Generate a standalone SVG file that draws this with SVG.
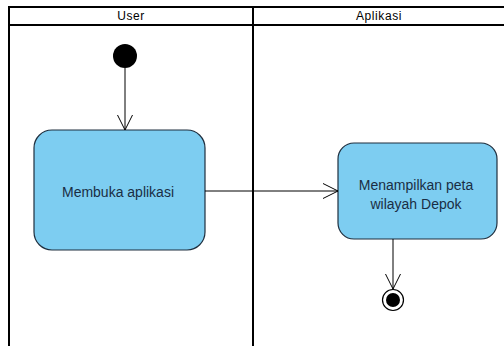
<svg xmlns="http://www.w3.org/2000/svg" width="504" height="346" viewBox="0 0 504 346">
<style>
.lane{fill:none;stroke:#000;stroke-width:2}
.hdr{font-family:"Liberation Sans",Arial,sans-serif;font-size:12px;letter-spacing:0.6px;fill:#000;text-anchor:middle}
.act{fill:#7dcdf1;stroke:#1f2f3f;stroke-width:1.2}
.lbl{font-family:"Liberation Sans",Arial,sans-serif;font-size:14px;fill:#1a2d44;text-anchor:middle}
.edge{fill:none;stroke:#000;stroke-width:1}
</style>
<defs>
<marker id="open" markerWidth="18" markerHeight="18" refX="16" refY="9" orient="auto" markerUnits="userSpaceOnUse">
<path d="M1,1.5 L16,9 L1,16.5" fill="none" stroke="#000" stroke-width="1"/>
</marker>
</defs>
<rect width="504" height="346" fill="#fff"/>
<g id="lanes">
<path class="lane" d="M9,347 V7 H505 M9,25 H505 M253,7 V347"/>
<text class="hdr" x="131" y="20">User</text>
<text class="hdr" x="379" y="20">Aplikasi</text>
</g>
<g id="start">
<circle cx="125" cy="56" r="12" fill="#000"/>
</g>
<g id="act1">
<rect class="act" x="34" y="130" width="171" height="120" rx="18" ry="18"/>
<text class="lbl" x="118" y="197">Membuka aplikasi</text>
</g>
<g id="act2">
<rect class="act" x="338" y="143" width="159" height="96" rx="16" ry="16"/>
<text class="lbl" x="416" y="189.5">Menampilkan peta</text>
<text class="lbl" x="416" y="208.5">wilayah Depok</text>
</g>
<g id="end">
<circle cx="393" cy="300" r="10.5" fill="#fff" stroke="#000" stroke-width="1.2"/>
<circle cx="393" cy="300" r="7" fill="#000"/>
</g>
<g id="connectors">
<path class="edge" d="M125,68 V130" marker-end="url(#open)"/>
<path class="edge" d="M205,191 H338" marker-end="url(#open)"/>
<path class="edge" d="M393,239 V289" marker-end="url(#open)"/>
</g>
</svg>
